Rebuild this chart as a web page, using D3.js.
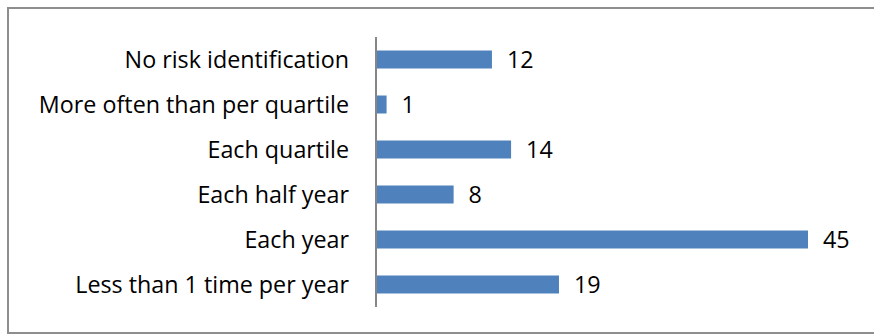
<!DOCTYPE html>
<html>
<head>
<meta charset="utf-8">
<script src="https://cdn.jsdelivr.net/npm/d3@7"></script>
<style>
  html, body { margin: 0; padding: 0; background: #fff; }
  svg { display: block; }
  text { font-family: "Open Sans", sans-serif; fill: #000; }
</style>
</head>
<body>
<svg id="chart" width="874" height="335"></svg>
<script>
// Frequency of risk identification (count of respondents)
const categories = [
  "No risk identification",
  "More often than per quartile",
  "Each quartile",
  "Each half year",
  "Each year",
  "Less than 1 time per year"
];
const values = [12, 1, 14, 8, 45, 19];

const svg = d3.select("#chart");
const fontSize = 23.3;

// Outer frame
svg.append("rect")
  .attr("x", 8).attr("y", 8)
  .attr("width", 880).attr("height", 325)
  .attr("fill", "#fff")
  .attr("stroke", "#8e8e8e")
  .attr("stroke-width", 2);

const plot = { left: 377, top: 37, bottom: 307 };

const x = d3.scaleLinear().domain([0, 45]).range([plot.left, 808]);
const y = d3.scaleBand().domain(categories).range([plot.top, plot.bottom]).paddingInner(0.6).paddingOuter(0.3);

// Bars
svg.append("g").selectAll("rect")
  .data(categories)
  .join("rect")
  .attr("x", x(0))
  .attr("y", c => y(c))
  .attr("width", (c, i) => x(values[i]) - x(0))
  .attr("height", y.bandwidth())
  .attr("fill", "#4f81bd");

// Value labels
svg.append("g").selectAll("text")
  .data(categories)
  .join("text")
  .attr("x", (c, i) => x(values[i]) + 15)
  .attr("y", c => y(c) + y.bandwidth() / 2)
  .attr("dy", "0.36em")
  .attr("font-size", fontSize)
  .text((c, i) => values[i]);

// Category axis
const axis = d3.axisLeft(y).tickSize(0).tickPadding(27);
const g = svg.append("g").attr("transform", `translate(${plot.left - 1},0)`).call(axis);
g.select(".domain").attr("stroke", "#868686").attr("stroke-width", 2)
  .attr("d", `M0,${plot.top}V${plot.bottom}`);
g.selectAll(".tick text")
  .attr("font-size", fontSize)
  .attr("font-family", "'Open Sans', sans-serif")
  .attr("fill", "#000")
  .attr("dy", "0.36em");
</script>
</body>
</html>
